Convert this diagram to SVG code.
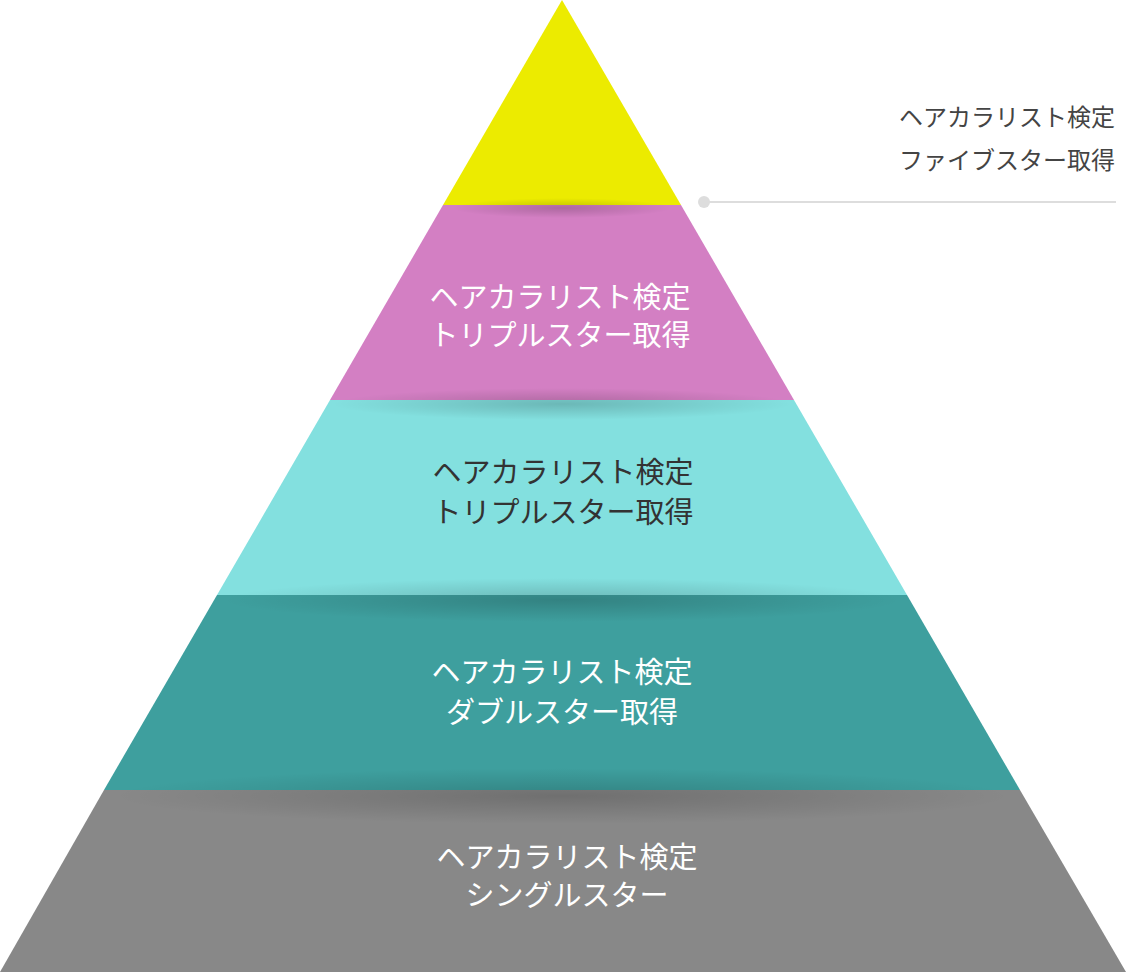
<svg xmlns="http://www.w3.org/2000/svg" width="1126" height="972" viewBox="0 0 1126 972">
<style>
text{font-family:"Noto Sans CJK JP","Noto Sans",sans-serif;text-anchor:middle}
.w{fill:#fff;font-size:29px}
.d{fill:#333;font-size:29px}
.c{fill:#444;font-size:24px;text-anchor:end}
</style>
<defs>
<radialGradient id="sh">
<stop offset="0" stop-color="#000" stop-opacity="0.18"/>
<stop offset="1" stop-color="#000" stop-opacity="0"/>
</radialGradient>
<clipPath id="pyr"><polygon points="562,0 1126,972 0,972"/></clipPath>
</defs>
<g id="band1"><polygon points="562,0 681,205 443,205" fill="#eceb00"/></g>
<g id="band2"><polygon points="443,205 681,205 794,400 330,400" fill="#d37fc3"/>
<text class="w" x="560" y="308">ヘアカラリスト検定</text><text class="w" x="560" y="346">トリプルスター取得</text></g>
<g id="band3"><polygon points="330,400 794,400 907,595 217,595" fill="#83e0df"/>
<text class="d" x="563" y="483">ヘアカラリスト検定</text><text class="d" x="563" y="523">トリプルスター取得</text></g>
<g id="band4"><polygon points="217,595 907,595 1020,790 104,790" fill="#3e9f9e"/>
<text class="w" x="562" y="683">ヘアカラリスト検定</text><text class="w" x="562" y="723">ダブルスター取得</text></g>
<g id="band5"><polygon points="104,790 1020,790 1126,972 0,972" fill="#888"/>
<text class="w" x="567" y="868">ヘアカラリスト検定</text><text class="w" x="567" y="906">シングルスター</text></g>
<g clip-path="url(#pyr)">
<ellipse cx="562" cy="208" rx="110" ry="10" fill="url(#sh)"/>
<ellipse cx="562" cy="404" rx="230" ry="16" fill="url(#sh)"/>
<ellipse cx="562" cy="600" rx="340" ry="22" fill="url(#sh)"/>
<ellipse cx="562" cy="796" rx="450" ry="28" fill="url(#sh)"/>
</g>
<g id="connectors">
<line x1="704" y1="202" x2="1116" y2="202" stroke="#ddd" stroke-width="2"/>
<circle cx="704" cy="202" r="6" fill="#ddd"/>
</g>
<g id="callout">
<text class="c" x="1115" y="126">ヘアカラリスト検定</text>
<text class="c" x="1115" y="169">ファイブスター取得</text>
</g>
</svg>
